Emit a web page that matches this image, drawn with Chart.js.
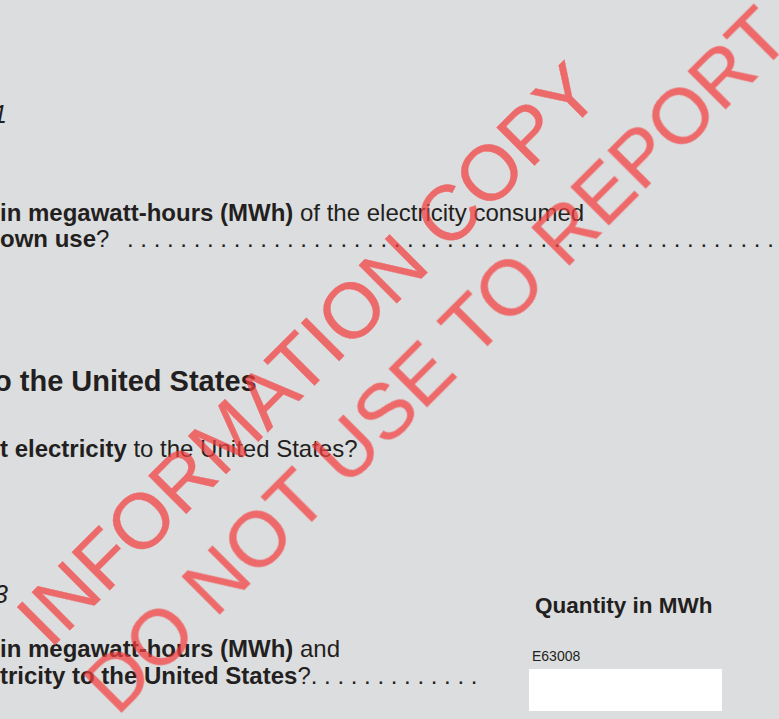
<!DOCTYPE html>
<html>
<head>
<meta charset="utf-8">
<script src="https://cdn.jsdelivr.net/npm/chart.js@4.4.1/dist/chart.umd.min.js"></script>
<style>
html, body { margin: 0; padding: 0; }
body {
  width: 779px; height: 719px; overflow: hidden; position: relative;
  background: #dcdddf; color: #231f20;
  font-family: "Liberation Sans", Arial, Helvetica, sans-serif;
}
.t { position: absolute; white-space: pre; line-height: 1; }
#answerBox { position: absolute; left: 529px; top: 669px; }
.wm { position: absolute; width: 0; height: 0; transform: rotate(-45deg); transform-origin: 0 0; z-index: 5; opacity: 0.72; }
.wm span {
  position: absolute; left: 0; white-space: pre; line-height: 1;
  color: rgb(244, 62, 62); -webkit-text-stroke: 0.4px rgb(244, 62, 62);
}
</style>
</head>
<body>
<canvas id="answerBox" width="193" height="42"></canvas>
<script>
// texts of the form (bold flag as 2nd item)
var itemNumbers = ["1", "3"];
var q1Lines = [
  [["in megawatt-hours (MWh)", 1], [" of the electricity consumed", 0]],
  [["own use", 1], ["?", 0]]
];
var sectionTitle = "o the United States";
var q2Line = [["t electricity", 1], [" to the United States?", 0]];
var q3Lines = [
  [["in megawatt-hours (MWh)", 1], [" and", 0]],
  [["tricity to the United States", 1], ["?", 0]]
];
var answerLabel = "Quantity in MWh";
var fieldCode = "E63008";
var watermarkLines = ["INFORMATION COPY", "DO NOT USE TO REPORT"];

// put a text so that its baseline sits on y
function addText(parts, x, base, size, extra) {
  var el = document.createElement("div");
  el.className = "t";
  el.style.left = x + "px";
  el.style.top = (base - 0.8465 * size) + "px";
  el.style.fontSize = size + "px";
  parts.forEach(function (p) {
    var s = document.createElement("span");
    s.textContent = p[0];
    if (p[1]) s.style.fontWeight = "bold";
    el.appendChild(s);
  });
  if (extra) Object.assign(el.style, extra);
  document.body.appendChild(el);
  return el;
}

function leader(n) {
  return ". ".repeat(n).trim();
}

addText([[itemNumbers[0], 0]], -7, 123, 25, {fontStyle: "italic"});
addText(q1Lines[0], 0, 221, 24);
addText(q1Lines[1], 0, 247, 24);
addText([[leader(49), 0]], 127, 247, 24);

addText([[sectionTitle, 1]], -6, 392, 29);
addText(q2Line, 0, 457, 24);

addText([[itemNumbers[1], 0]], -6, 603, 25, {fontStyle: "italic"});
addText(q3Lines[0], 0, 657, 24);
var l3 = q3Lines[1].concat([[leader(13), 0]]);
addText(l3, 0, 684, 24);

addText([[answerLabel, 1]], 535, 614, 22.5);
addText([[fieldCode, 0]], 532, 661, 14, {fontFamily: "'Liberation Sans Narrow', 'Liberation Sans', sans-serif"});

// watermark, both lines start on the same perpendicular
var wmStarts = [[50, 650], [117, 717]];
var wmSize = 78;
watermarkLines.forEach(function (txt, i) {
  var box = document.createElement("div");
  box.className = "wm";
  box.style.left = wmStarts[i][0] + "px";
  box.style.top = wmStarts[i][1] + "px";
  var s = document.createElement("span");
  s.textContent = txt;
  s.style.fontSize = wmSize + "px";
  s.style.top = (-0.8465 * wmSize) + "px";
  box.appendChild(s);
  document.body.appendChild(box);
});

// white entry field drawn by Chart.js (empty chart, background plugin)
new Chart(document.getElementById("answerBox"), {
  type: "bar",
  data: { labels: [], datasets: [] },
  options: {
    responsive: false,
    animation: false,
    events: [],
    plugins: { legend: { display: false }, tooltip: { enabled: false } },
    scales: { x: { display: false }, y: { display: false } }
  },
  plugins: [{
    id: "fieldBg",
    beforeDraw: function (chart) {
      var ctx = chart.ctx;
      ctx.save();
      ctx.fillStyle = "#ffffff";
      ctx.fillRect(0, 0, chart.width, chart.height);
      ctx.restore();
    }
  }]
});
</script>
</body>
</html>
